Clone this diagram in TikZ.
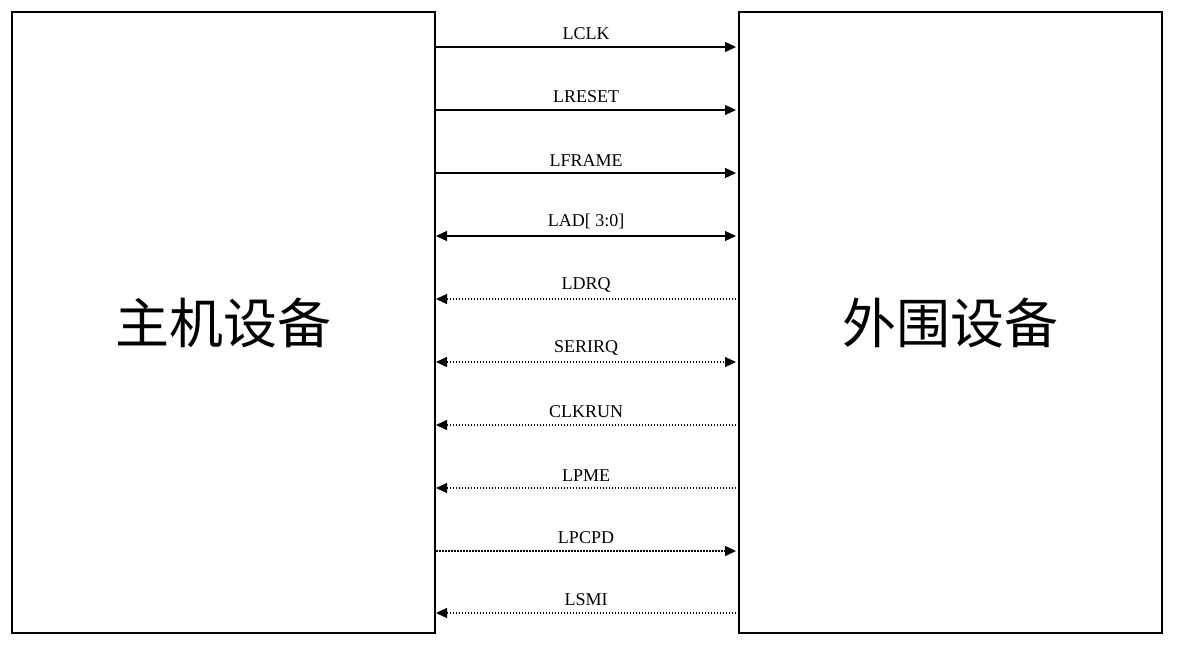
\documentclass[tikz,border=0pt]{standalone}
\usepackage{fontspec}
\setmainfont{Liberation Serif}
\newfontfamily\cjk{Noto Sans CJK SC}
\usetikzlibrary{arrows.meta}
\tikzset{
  devbox/.style={draw, line width=2pt, minimum width=423pt, minimum height=621pt, inner sep=0pt, font=\cjk\fontsize{54}{60}\selectfont},
  sig/.style={line width=1.2pt},
  dot/.style={line width=1.2pt, dash pattern=on 1.5pt off 1.5pt},
  siglabel/.style={above=3pt, font=\fontsize{18}{20}\selectfont}
}
\begin{document}
\begin{tikzpicture}[x=1pt,y=-1pt]
        \useasboundingbox (0,0) rectangle (1182,648);
        \node[devbox] (host) at (223.5,322.5) {主机设备};
        \node[devbox] (dev) at (950,322.5) {外围设备};

        \foreach \name/\y/\sty/\tip [count=\i] in {LCLK/47/sig/->, LRESET/110/sig/->, LFRAME/173/sig/->, LAD[ 3:0]/236/sig/<->, LDRQ/299/dot/<-, SERIRQ/362/dot/<->, CLKRUN/425/dot/<-, LPME/488/dot/<-, LPCPD/551/dot/->, LSMI/613/dot/<-} {
            \coordinate (h\i) at (436,\y);
            \coordinate (d\i) at (736,\y);
            \draw[\sty, \tip, >={Triangle[length=11pt,width=10pt]}] (h\i) -- (d\i) node[midway, siglabel]{\name};
        }
    \end{tikzpicture}
\end{document}
